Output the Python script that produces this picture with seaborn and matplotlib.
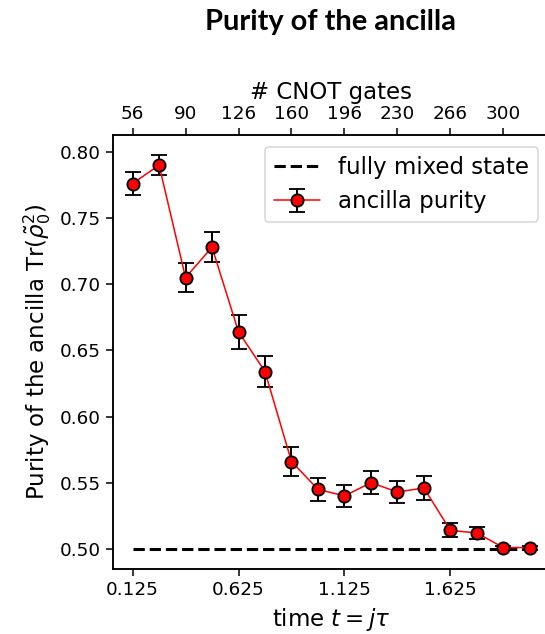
import numpy as np
import pandas as pd
import matplotlib
matplotlib.use("Agg")
import matplotlib.pyplot as plt
import seaborn as sns

# data
time = [0.125, 0.25, 0.375, 0.5, 0.625, 0.75, 0.875, 1.0,
        1.125, 1.25, 1.375, 1.5, 1.625, 1.75, 1.875, 2.0]
purity = [0.776, 0.790, 0.705, 0.728, 0.664, 0.634, 0.566, 0.545,
          0.540, 0.550, 0.543, 0.546, 0.514, 0.512, 0.501, 0.501]
purity_err = [0.0088, 0.0078, 0.0111, 0.0112, 0.013, 0.0114, 0.0107, 0.0087,
              0.008, 0.0085, 0.008, 0.009, 0.0053, 0.0047, 0.0015, 0.0015]
mixed_state = [0.5] * len(time)
cnot_gates = ["56", "90", "126", "160", "196", "230", "266", "300"]
bottom_ticks = [0.125, 0.625, 1.125, 1.625]

df = pd.DataFrame({"time": time, "purity": purity, "err": purity_err, "mixed": mixed_state})

sns.set_style("ticks")
plt.rcParams['font.family'] = ['DejaVu Sans']
plt.rcParams['axes.linewidth'] = 1.0
plt.rcParams['text.color'] = 'black'
plt.rcParams['axes.labelcolor'] = 'black'
plt.rcParams['xtick.color'] = 'black'
plt.rcParams['ytick.color'] = 'black'
plt.rcParams['axes.edgecolor'] = 'black'

fig = plt.figure(figsize=(545 / 110, 634 / 110), dpi=110)
ax = fig.add_axes([0.2068, 0.1021, 1.0086 - 0.2068, 0.787 - 0.1021])

sns.lineplot(data=df, x="time", y="mixed", ax=ax, color="black", lw=2,
             linestyle="--", label="fully mixed state")
ax.errorbar(df["time"], df["purity"], yerr=df["err"], color="red", lw=1,
            marker="o", markersize=8, markerfacecolor="red", markeredgecolor="black",
            markeredgewidth=1.2, ecolor="black", elinewidth=1.3, capsize=5, capthick=1.3,
            label="ancilla purity")

ax.set_xticks(bottom_ticks)
ax.set_xticklabels([f"{t:.3f}" for t in bottom_ticks])
ax.set_yticks([0.50, 0.55, 0.60, 0.65, 0.70, 0.75, 0.80])
ax.yaxis.set_major_formatter(matplotlib.ticker.FormatStrFormatter("%.2f"))
ax.tick_params(labelsize=12, length=4.5, width=1, colors="black")
ax.set_xlabel(r"time $t = j\tau$", fontsize=15)
ax.set_ylabel(r"Purity of the ancilla Tr$(\tilde{\rho}_0^2)$", fontsize=15)

ax2 = ax.twiny()
ax2.set_xlim(ax.get_xlim())
ax2.set_xticks(time[::2])
ax2.set_xticklabels(cnot_gates)
ax2.tick_params(labelsize=12, length=4.5, width=1, colors="black")
ax2.set_xlabel("# CNOT gates", fontsize=15)

ax.legend(loc="upper right", fontsize=15, frameon=True, fancybox=True, framealpha=0.8,
          edgecolor="#cccccc")

fig.text(0.607, 0.966, "Purity of the ancilla", ha="center", va="center",
         fontsize=19, fontweight="bold", family=["Lato", "DejaVu Sans"])

fig.savefig("out.png", dpi=110)
